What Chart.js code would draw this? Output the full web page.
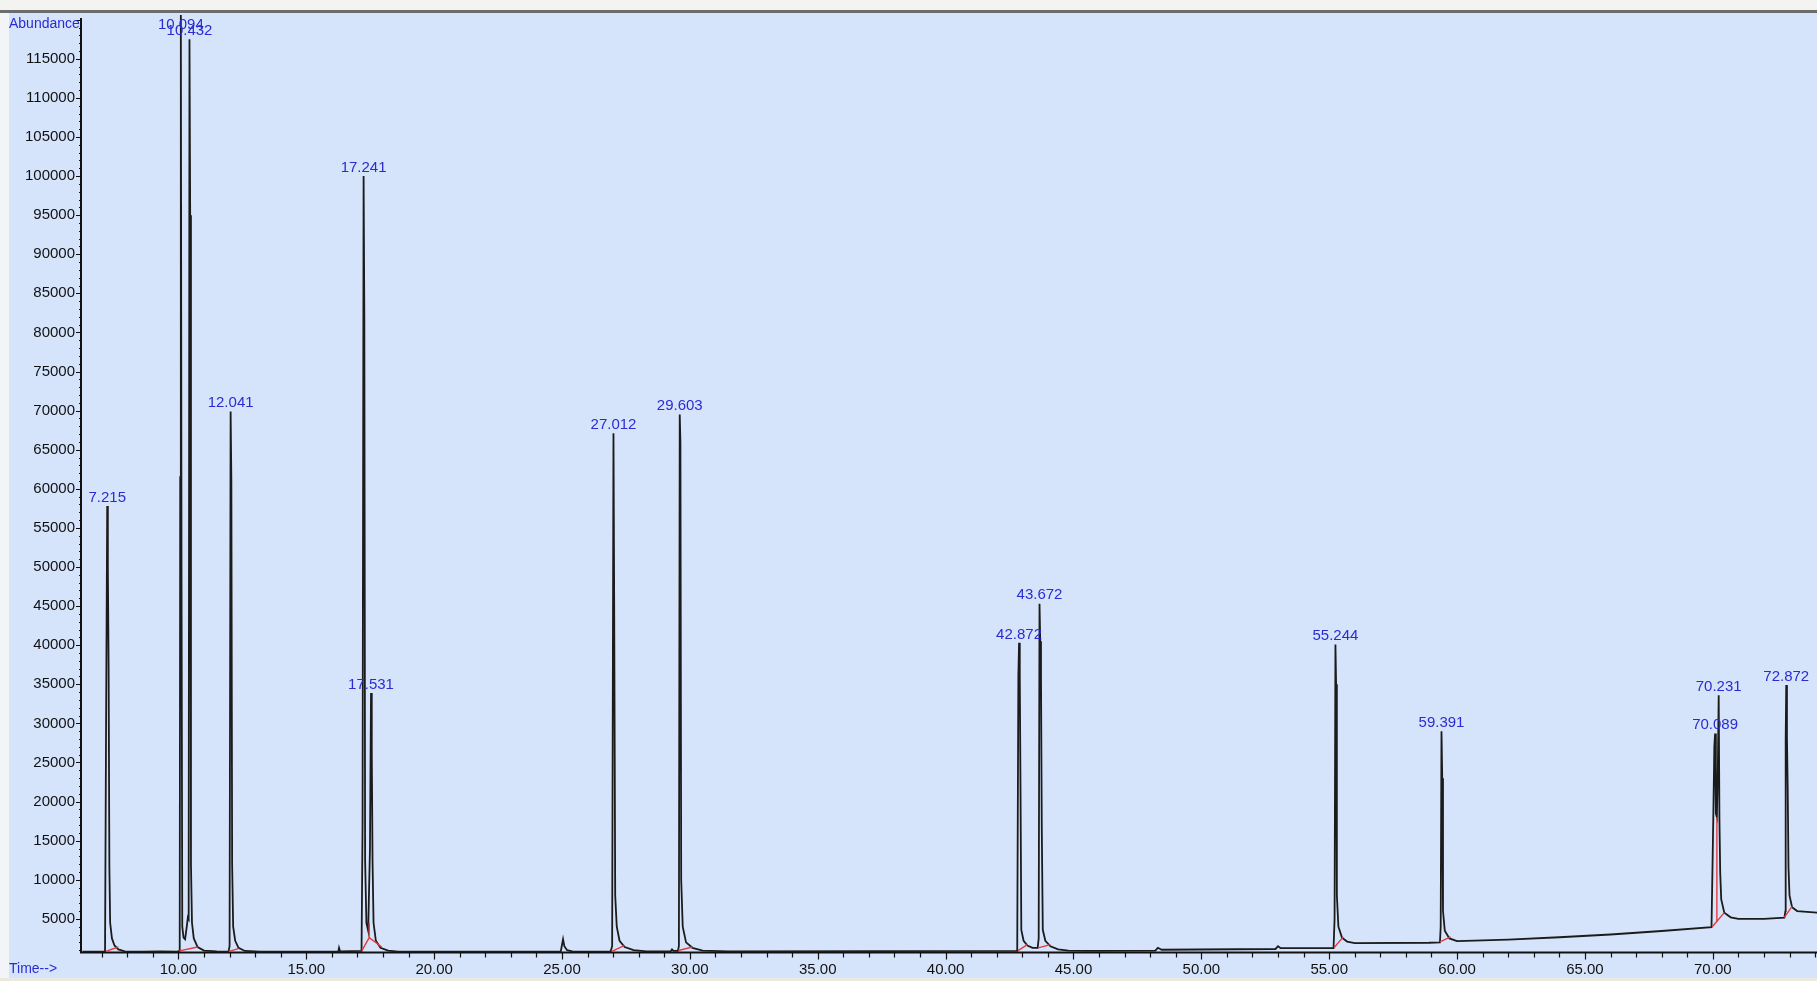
<!DOCTYPE html>
<html>
<head>
<meta charset="utf-8">
<title>TIC</title>
<script src="https://cdn.jsdelivr.net/npm/chart.js@4.4.1/dist/chart.umd.min.js"></script>
<style>
  html, body { margin: 0; padding: 0; background: #d5e4fb; overflow: hidden; }
  canvas { display: block; }
</style>
</head>
<body>
<canvas id="tic" width="1817" height="981"></canvas>
<script>
// retention time (min) / abundance
const traceTime = [
  6.25, 6.9, 7.13, 7.17, 7.215, 7.24, 7.27, 7.30, 7.33, 7.40, 7.50, 7.65, 7.90, 8.60, 9.30,
  9.95, 10.05, 10.07, 10.094, 10.12, 10.15, 10.20, 10.26, 10.31, 10.37, 10.40, 10.432, 10.46, 10.49, 10.53, 10.60, 10.75,
  11.00, 11.50, 11.96, 12.00, 12.041, 12.07, 12.10, 12.14, 12.22, 12.35, 12.60, 13.20,
  16.25, 16.28, 16.32, 17.16, 17.20, 17.241, 17.27, 17.30, 17.35, 17.42, 17.49, 17.531, 17.56, 17.59, 17.63, 17.72, 17.90, 18.20, 18.60,
  24.95, 25.04, 25.09, 25.20, 25.40, 26.90, 26.96, 27.012, 27.04, 27.08, 27.14, 27.25, 27.45, 27.80, 28.30,
  29.25, 29.30, 29.36, 29.53, 29.57, 29.603, 29.63, 29.66, 29.72, 29.85, 30.10, 30.50, 31.50,
  42.80, 42.845, 42.872, 42.90, 42.93, 42.96, 43.05, 43.20, 43.40, 43.60, 43.64, 43.672, 43.70, 43.73, 43.76, 43.80, 43.90, 44.10, 44.40, 44.80, 45.60,
  48.20, 48.30, 48.45, 52.90, 53.00, 53.10,
  55.17, 55.21, 55.244, 55.27, 55.30, 55.36, 55.50, 55.70, 56.00, 58.90,
  59.33, 59.36, 59.391, 59.42, 59.45, 59.52, 59.70, 60.00, 62.00, 64.00, 66.00, 68.00, 69.95,
  70.02, 70.06, 70.089, 70.12, 70.16, 70.20, 70.231, 70.26, 70.29, 70.33, 70.45, 70.70, 71.00, 72.00,
  72.80, 72.84, 72.85, 72.872, 72.90, 72.93, 72.96, 73.00, 73.10, 73.30, 74.12
];
const traceAbund = [
  800, 800, 820, 29500, 57800, 50000, 37000, 11500, 4500, 2500, 1600, 1100, 850, 800, 850,
  800, 900, 61500, 123000, 50000, 4000, 2600, 2400, 3600, 5200, 5000, 117500, 95000, 12000, 4500, 2500, 1400,
  950, 850, 820, 1500, 69900, 61000, 12000, 4000, 2200, 1300, 900, 820,
  800, 1300, 850, 900, 17000, 100000, 82000, 12500, 4500, 3500, 14000, 33900, 26500, 12500, 4500, 2200, 1300, 950, 820,
  800, 2400, 1500, 1000, 850, 820, 1500, 67100, 45000, 8000, 4000, 2200, 1400, 1000, 850,
  850, 1100, 900, 900, 1500, 69500, 66000, 10000, 4000, 2000, 1300, 950, 850,
  900, 36000, 40300, 36000, 21000, 3600, 2200, 1600, 1300, 1300, 2500, 45300, 40500, 36000, 16800, 3600, 2200, 1500, 1100, 950, 900,
  950, 1300, 1050, 1150, 1500, 1250,
  1250, 5000, 40100, 35000, 8000, 4000, 2600, 2100, 1900, 1950,
  2000, 4000, 29000, 23000, 6000, 3500, 2500, 2150, 2350, 2650, 3000, 3450, 3950,
  18000, 27000, 28700, 18500, 18000, 25000, 33600, 17700, 10900, 7500, 5800, 5200, 5000, 5000,
  5150, 6000, 28000, 34900, 28300, 21500, 11600, 8000, 6500, 6000, 5800
];

// labelled peaks
const peakLabels = ['7.215', '10.094', '10.432', '12.041', '17.241', '17.531', '27.012', '29.603',
  '42.872', '43.672', '55.244', '59.391', '70.089', '70.231', '72.872'];
const peakTimes = [7.215, 10.094, 10.432, 12.041, 17.241, 17.531, 27.012, 29.603,
  42.872, 43.672, 55.244, 59.391, 70.089, 70.231, 72.872];
const peakHeights = [57800, 123000, 117500, 69900, 100000, 33900, 67100, 69500,
  40300, 45300, 40100, 29000, 28700, 33600, 34900];

// integration baselines (red)
const intgStartT = [7.16, 10.04, 11.97, 17.17, 17.46, 26.95, 29.55, 42.83, 43.62, 55.19, 59.33, 69.98, 72.80];
const intgStartY = [850, 900, 850, 900, 2600, 850, 950, 950, 1300, 1300, 2050, 4000, 5200];
const intgEndT = [7.65, 10.75, 12.35, 17.46, 17.95, 27.45, 30.10, 43.20, 44.10, 55.55, 59.75, 70.45, 73.10];
const intgEndY = [1400, 1400, 1200, 2600, 1400, 1600, 1400, 1700, 1700, 2700, 2700, 5800, 6600];
const dropT = [17.46, 70.16];
const dropLow = [2600, 4600];
const dropHigh = [4500, 18000];

const xTickValues = [10, 15, 20, 25, 30, 35, 40, 45, 50, 55, 60, 65, 70];
const xTickLabels = ['10.00', '15.00', '20.00', '25.00', '30.00', '35.00', '40.00', '45.00',
  '50.00', '55.00', '60.00', '65.00', '70.00'];
const yTickValues = [5000, 10000, 15000, 20000, 25000, 30000, 35000, 40000, 45000, 50000, 55000, 60000,
  65000, 70000, 75000, 80000, 85000, 90000, 95000, 100000, 105000, 110000, 115000];
const yTickLabels = yTickValues.map(String);

const FONT = "'Liberation Sans', Arial, sans-serif";
const BLUE = '#2b2bd2';

const trace = traceTime.map((t, i) => ({ x: t, y: traceAbund[i] }));
const intg = [];
intgStartT.forEach((t, i) => {
  intg.push({ x: t, y: intgStartY[i] }, { x: intgEndT[i], y: intgEndY[i] }, { x: intgEndT[i], y: null });
});
dropT.forEach((t, i) => {
  intg.push({ x: t, y: dropLow[i] }, { x: t, y: dropHigh[i] }, { x: t, y: null });
});

const chemstation = {
  id: 'chemstation',
  beforeDraw(chart) {
    const { ctx, width, height } = chart;
    ctx.save();
    ctx.fillStyle = '#d5e4fb';
    ctx.fillRect(0, 0, width, height);
    ctx.fillStyle = '#f3f3f1';
    ctx.fillRect(0, 0, width, 10);
    ctx.fillStyle = '#6c6c6c';
    ctx.fillRect(0, 10, width, 3);
    ctx.fillStyle = '#f2f4f8';
    ctx.fillRect(0, 13, 9, height - 13);
    ctx.fillStyle = '#ebe8df';
    ctx.fillRect(0, 978, width, height - 978);
    ctx.restore();
  },
  beforeDatasetsDraw(chart) {
    const { ctx, chartArea: a, scales: { x, y } } = chart;
    ctx.save();
    ctx.strokeStyle = '#111';
    ctx.lineWidth = 2;
    ctx.beginPath();
    ctx.moveTo(a.left, a.top + 3);
    ctx.lineTo(a.left, a.bottom);
    ctx.lineTo(a.right, a.bottom);
    ctx.stroke();
    ctx.lineWidth = 1.2;
    ctx.beginPath();
    for (let v = 1000; v < y.max; v += 1000) {
      const py = Math.round(y.getPixelForValue(v)) + 0.5;
      const len = v % 5000 === 0 ? 5 : 2;
      ctx.moveTo(a.left - len, py);
      ctx.lineTo(a.left, py);
    }
    for (let t = Math.ceil(x.min); t <= x.max; t++) {
      const px = Math.round(x.getPixelForValue(t)) + 0.5;
      ctx.moveTo(px, a.bottom);
      ctx.lineTo(px, a.bottom + (t % 5 === 0 ? 7 : 5));
    }
    ctx.stroke();
    ctx.restore();
  },
  afterDatasetsDraw(chart) {
    const { ctx, chartArea: a, scales: { x, y } } = chart;
    ctx.save();
    ctx.fillStyle = BLUE;
    ctx.font = '15px ' + FONT;
    ctx.textAlign = 'center';
    ctx.textBaseline = 'bottom';
    peakLabels.forEach((lab, i) => {
      const px = x.getPixelForValue(peakTimes[i]);
      const py = Math.max(y.getPixelForValue(peakHeights[i]) - 1, a.top + 17);
      ctx.fillText(lab, px, py);
    });
    ctx.font = '14px ' + FONT;
    ctx.textAlign = 'left';
    ctx.textBaseline = 'middle';
    ctx.fillText('Abundance', 9, 24);
    ctx.fillText('Time-->', 9, 969);
    ctx.restore();
  }
};

new Chart(document.getElementById('tic'), {
  type: 'line',
  plugins: [chemstation],
  data: {
    datasets: [
      {
        label: 'integration',
        data: intg,
        borderColor: '#e63a3c',
        borderWidth: 1.4,
        pointRadius: 0,
        spanGaps: false,
        order: 0,
      },
      {
        label: 'TIC',
        data: trace,
        borderColor: '#1b1b1b',
        borderWidth: 1.8,
        pointRadius: 0,
        tension: 0,
        order: 1,
      },
    ],
  },
  options: {
    responsive: false,
    animation: false,
    events: [],
    layout: { padding: { left: 0, top: 15, right: 0, bottom: 0 } },
    plugins: { legend: { display: false }, tooltip: { enabled: false } },
    scales: {
      x: {
        type: 'linear',
        min: 6.19,
        max: 74.075,
        bounds: 'data',
        grid: { display: false, drawTicks: false },
        border: { display: false },
        afterBuildTicks: (s) => { s.ticks = xTickValues.map((v) => ({ value: v })); },
        afterFit: (s) => { s.height = 28.5; },
        ticks: {
          autoSkip: false,
          maxRotation: 0,
          padding: 8,
          color: '#111',
          font: { family: FONT, size: 15 },
          callback: (v, i) => xTickLabels[i],
        },
      },
      y: {
        min: 700,
        max: 120600,
        bounds: 'data',
        grid: { display: false, drawTicks: false },
        border: { display: false },
        afterBuildTicks: (s) => { s.ticks = yTickValues.map((v) => ({ value: v })); },
        afterFit: (s) => { s.width = 81; },
        ticks: {
          autoSkip: false,
          padding: 6,
          color: '#111',
          font: { family: FONT, size: 15 },
          callback: (v, i) => yTickLabels[i],
        },
      },
    },
  },
});
</script>
</body>
</html>
